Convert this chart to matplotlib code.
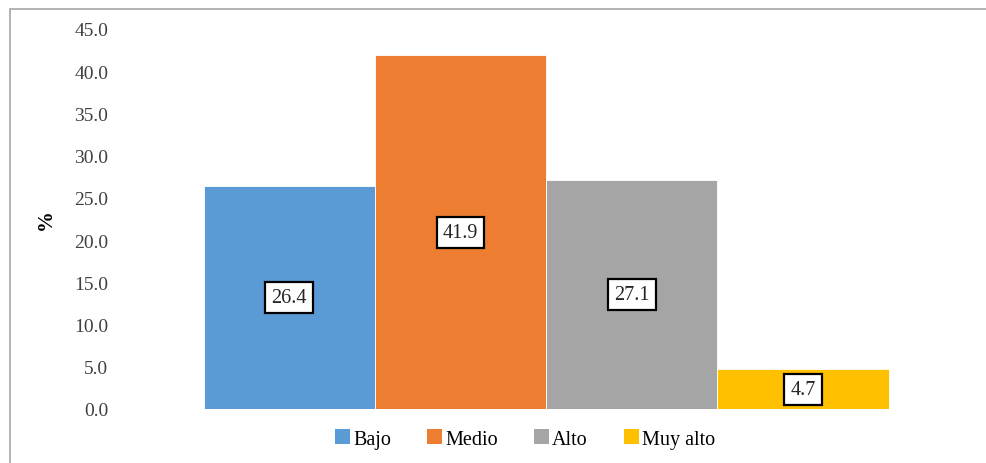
import matplotlib.pyplot as plt
from matplotlib.patches import Rectangle, Patch

categories = ['Bajo', 'Medio', 'Alto', 'Muy alto']
values = [26.4, 41.9, 27.1, 4.7]
colors = ['#5B9BD5', '#ED7D31', '#A5A5A5', '#FFC000']
yticks = [0, 5, 10, 15, 20, 25, 30, 35, 40, 45]

plt.rcParams['font.family'] = ['Liberation Serif', 'DejaVu Serif']

fig = plt.figure(figsize=(9.87, 4.64), dpi=100)
ax = fig.add_axes([0.1196, 0.1164, 0.8674, 0.8190])

x = list(range(len(categories)))
bars = ax.bar(x, values, width=1.0, color=colors, edgecolor='white', linewidth=0.6)

for xi, v in zip(x, values):
    ax.text(xi, v / 2, f'{v:.1f}', ha='center', va='center', fontsize=14.5,
            color='#262626',
            bbox=dict(boxstyle='square,pad=0.3', facecolor='white',
                      edgecolor='black', linewidth=1.6))

ax.set_xlim(-1, 4)
ax.set_ylim(0, 45)
ax.set_yticks(yticks)
ax.set_yticklabels([f'{t:.1f}' for t in yticks], fontsize=14, color='#404040')
ax.set_xticks([])
ax.tick_params(axis='y', length=0, pad=7)
for s in ax.spines.values():
    s.set_visible(False)

ax.set_ylabel('%', fontsize=15, fontweight='bold', color='black', labelpad=13)

handles = [Patch(facecolor=c, edgecolor='none') for c in colors]
fig.legend(handles, categories, loc='center', bbox_to_anchor=(0.532, 0.052),
           ncol=4, frameon=False, fontsize=14.5, handlelength=0.75,
           handleheight=0.75, handletextpad=0.15, columnspacing=1.8)

# outer frame (left and top edges visible)
fig.patches.append(Rectangle((10 / 987, -0.1), 1.2, 1.1 - 10 / 464,
                             transform=fig.transFigure, fill=False,
                             edgecolor='#A6A6A6', linewidth=1.2))

fig.savefig('out.png', dpi=100)
